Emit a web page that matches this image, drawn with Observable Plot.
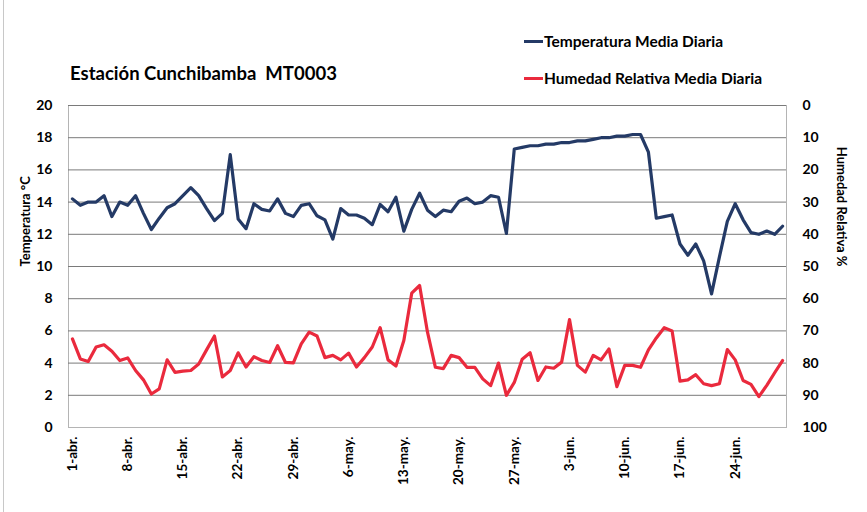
<!DOCTYPE html>
<html>
<head>
<meta charset="utf-8">
<script src="https://cdn.jsdelivr.net/npm/d3@7"></script>
<script src="https://cdn.jsdelivr.net/npm/@observablehq/plot@0.6"></script>
<style>
  html, body { margin: 0; padding: 0; background: #fff; }
  #wrap { position: relative; width: 867px; height: 512px; overflow: hidden; font-family: Lato, "Open Sans", sans-serif; }
  #title { position: absolute; left: 70px; top: 62px; font-size: 18.5px; font-weight: bold; white-space: pre; color: #000; }
  .leg { position: absolute; left: 524px; font-size: 15.5px; font-weight: bold; white-space: pre; color: #000; display: flex; align-items: center; }
  .leg span.sw { display: inline-block; width: 19px; height: 3px; margin-right: 1px; }
  #border { position: absolute; left: 3px; top: 0; width: 0; height: 512px; border-left: 1px solid #c8c8c8; }
  #chart { position: absolute; left: 0; top: 0; }
</style>
</head>
<body>
<div id="wrap">
  <div id="chart"></div>
  <div id="border"></div>
  <div id="title"></div>
  <div class="leg" id="leg1" style="top:32px"></div>
  <div class="leg" id="leg2" style="top:69px"></div>
</div>
<script>
const title = "Estación Cunchibamba  MT0003";
const seriesNames = ["Temperatura Media Diaria", "Humedad Relativa Media Diaria"];
const seriesColors = ["#243a66", "#ea2a3d"];
const leftLabel = "Temperatura °C";
const rightLabel = "Humedad Relativa %";

// Days 1-abr. .. 30-jun. (91 days)
const days = d3.range(91);
const tickDays = [0, 7, 14, 21, 28, 35, 42, 49, 56, 63, 70, 77, 84];
const tickLabels = ["1-abr.", "8-abr.", "15-abr.", "22-abr.", "29-abr.", "6-may.", "13-may.", "20-may.", "27-may.", "3-jun.", "10-jun.", "17-jun.", "24-jun."];

const temperature = [
  14.2, 13.8, 14.0, 14.0, 14.4, 13.1, 14.0, 13.8, 14.4, 13.3,
  12.3, 13.0, 13.65, 13.9, 14.4, 14.9, 14.4, 13.6, 12.85, 13.3,
  16.95, 12.95, 12.35, 13.9, 13.55, 13.45, 14.2, 13.3, 13.1, 13.8,
  13.9, 13.15, 12.9, 11.7, 13.6, 13.2, 13.2, 13.0, 12.6, 13.85,
  13.4, 14.3, 12.2, 13.55, 14.55, 13.5, 13.1, 13.5, 13.4, 14.05,
  14.25, 13.9, 14.0, 14.4, 14.3, 12.05, 17.3, 17.4, 17.5, 17.5,
  17.6, 17.6, 17.7, 17.7, 17.8, 17.8, 17.9, 18.0, 18.0, 18.1,
  18.1, 18.2, 18.2, 17.1, 13.0, 13.1, 13.2, 11.4, 10.7, 11.4,
  10.35, 8.3, 10.6, 12.8, 13.9, 12.9, 12.1, 12.0, 12.2, 12.0,
  12.5
];

const humidity = [
  72.5, 78.7, 79.5, 75.0, 74.3, 76.3, 79.2, 78.4, 82.3, 85.2,
  89.6, 88.0, 79.0, 82.9, 82.5, 82.3, 80.3, 75.9, 71.6, 84.3,
  82.3, 76.8, 81.2, 78.0, 79.2, 79.8, 74.6, 79.8, 79.9, 74.0,
  70.4, 71.6, 78.3, 77.6, 79.0, 76.9, 81.2, 78.3, 75.0, 69.0,
  79.0, 80.9, 73.0, 58.3, 55.9, 70.4, 81.3, 81.7, 77.6, 78.3,
  81.3, 81.3, 84.9, 87.0, 80.0, 90.0, 86.0, 78.8, 76.8, 85.4,
  81.2, 81.6, 79.7, 66.5, 80.7, 82.8, 77.6, 79.0, 75.6, 87.3,
  80.7, 80.7, 81.3, 75.9, 72.2, 69.0, 70.0, 85.6, 85.2, 83.6,
  86.4, 87.0, 86.4, 75.8, 79.0, 85.4, 86.6, 90.4, 86.9, 83.0,
  79.2
];

const leftTicks = d3.range(0, 21, 2);
// Humidity (0 top .. 100 bottom) mapped onto the temperature scale
const humToT = h => (100 - h) / 5;
const tToHum = t => Math.round(100 - 5 * t);

const tempData = days.map(i => ({day: i, v: temperature[i]}));
const humData = days.map(i => ({day: i, v: humToT(humidity[i])}));

const font = "Lato, 'Open Sans', sans-serif";

const chart = Plot.plot({
  width: 867,
  height: 512,
  marginLeft: 68,
  marginRight: 81,
  marginTop: 105,
  marginBottom: 85,
  style: {fontFamily: font, fontWeight: "bold", color: "#000", background: "transparent"},
  x: {type: "point", domain: days, padding: 0.5, axis: null},
  y: {domain: [0, 20], axis: null},
  marks: [
    Plot.frame({stroke: "#b4b4b4"}),
    Plot.ruleY(leftTicks.filter(t => t > 0), {stroke: "#7a7a7a", strokeWidth: 1}),
    Plot.line(humData, {x: "day", y: "v", stroke: seriesColors[1], strokeWidth: 3.2}),
    Plot.line(tempData, {x: "day", y: "v", stroke: seriesColors[0], strokeWidth: 3.2}),
    Plot.axisY({ticks: leftTicks, tickSize: 0, tickPadding: 16, fontSize: 14, fontWeight: "bold", label: null}),
    Plot.axisY({anchor: "right", ticks: leftTicks, tickFormat: tToHum, tickSize: 0, tickPadding: 16, fontSize: 14, fontWeight: "bold", label: null, textAnchor: "start"}),
    Plot.text(tickDays, {x: d => d, frameAnchor: "bottom", dy: 9, rotate: -90, textAnchor: "end", lineAnchor: "middle", text: (d, i) => tickLabels[i], fontSize: 13.5, fontWeight: "bold", fill: "#000"}),
    Plot.text([leftLabel], {frameAnchor: "left", dx: -43, rotate: -90, fontSize: 13, fontWeight: "bold", fill: "#000"}),
    Plot.text([rightLabel], {frameAnchor: "right", dx: 55, rotate: 90, fontSize: 13, fontWeight: "bold", fill: "#000"})
  ]
});
document.getElementById("chart").appendChild(chart);

document.getElementById("title").textContent = title;
[["leg1", 0], ["leg2", 1]].forEach(([id, k]) => {
  const el = document.getElementById(id);
  const sw = document.createElement("span");
  sw.className = "sw";
  sw.style.background = seriesColors[k];
  el.appendChild(sw);
  el.appendChild(document.createTextNode(seriesNames[k]));
});
</script>
</body>
</html>
